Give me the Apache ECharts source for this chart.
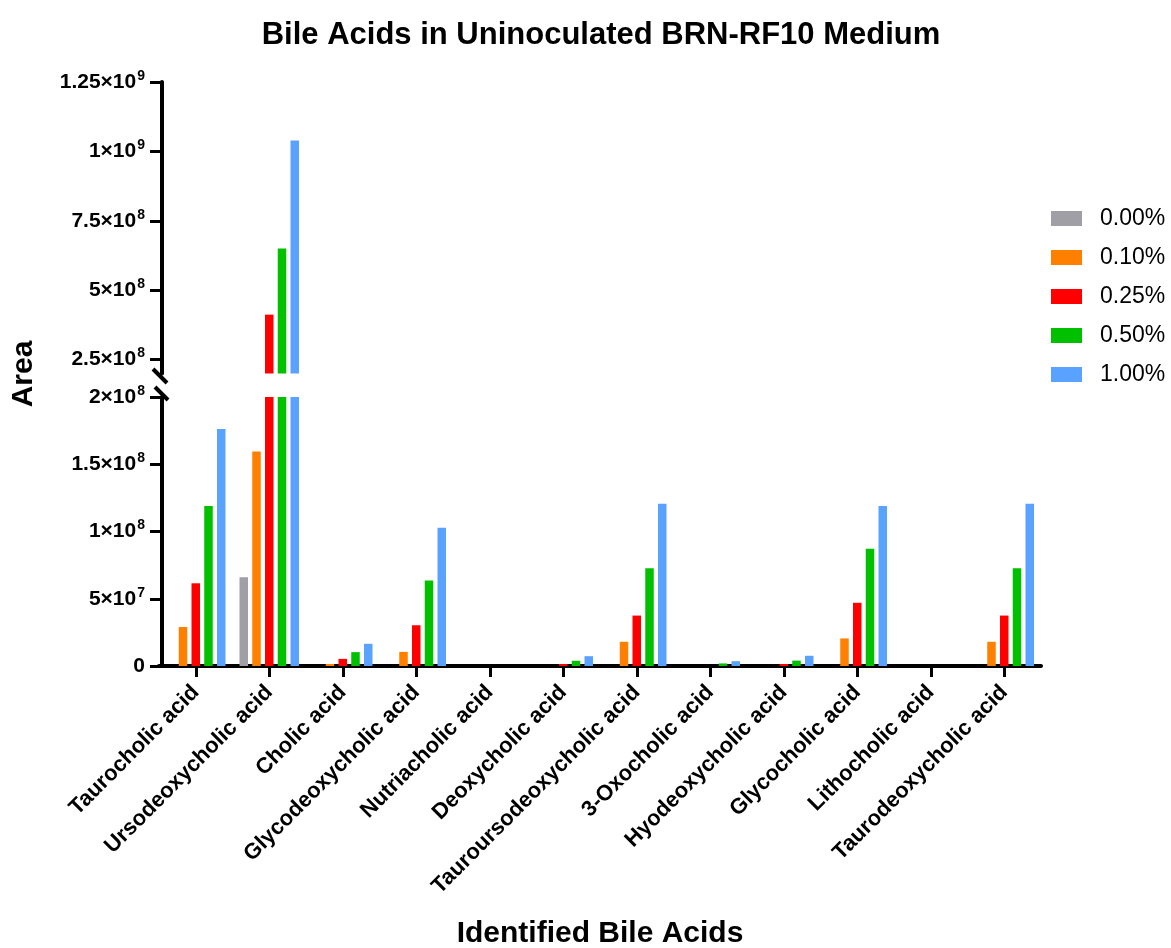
<!DOCTYPE html>
<html>
<head>
<meta charset="utf-8">
<script src="https://cdn.jsdelivr.net/npm/echarts@6/dist/echarts.min.js"></script>
<style>html,body{margin:0;padding:0;background:#fff}#c{width:1171px;height:948px}</style>
</head>
<body>
<div id="c"></div>
<script>
const categories = ['Taurocholic acid','Ursodeoxycholic acid','Cholic acid','Glycodeoxycholic acid','Nutriacholic acid','Deoxycholic acid','Tauroursodeoxycholic acid','3-Oxocholic acid','Hyodeoxycholic acid','Glycocholic acid','Lithocholic acid','Taurodeoxycholic acid'];
const seriesNames = ['0.00%','0.10%','0.25%','0.50%','1.00%'];
const v000 = [0, 6.6e7, 0, 0, 0, 0, 0, 0, 0, 0, 0, 0];
const v010 = [2.9e7, 1.595e8, 1.5e6, 1.05e7, 0, 0, 1.8e7, 0, 0, 2.05e7, 0, 1.8e7];
const v025 = [6.15e7, 4.12e8, 5.3e6, 3.03e7, 0, 1.5e6, 3.75e7, 0, 1.5e6, 4.7e7, 0, 3.75e7];
const v050 = [1.19e8, 6.5e8, 1.03e7, 6.35e7, 0, 3.9e6, 7.27e7, 1.9e6, 4.0e6, 8.71e7, 0, 7.27e7];
const v100 = [1.763e8, 1.039e9, 1.65e7, 1.027e8, 0, 7.3e6, 1.207e8, 3.6e6, 7.6e6, 1.19e8, 0, 1.207e8];
const lowerTicks = [0, 5e7, 1e8, 1.5e8, 2e8];
const upperTicks = [2.5e8, 5e8, 7.5e8, 1e9, 1.25e9];
const lowerMax = 2e8;
const upperMin = 2e8, upperMax = 1.25e9;

const colors = ['#a09fa5','#ff8000','#ff0000','#00c000','#5aa2ff'];
const allValues = [v000, v010, v025, v050, v100];
const FONT = 'Liberation Sans, Arial, Helvetica, sans-serif';

const G_LEFT = 159, G_RIGHT = 1171 - 1041;
const TOP_T = 82, TOP_H = 291.5;
const LOW_T = 397, LOW_H = 269;

function fmt(v) {
  if (v === 0) return '{m|0}';
  const e = Math.floor(Math.log10(v) + 1e-9);
  const m = +(v / Math.pow(10, e)).toFixed(3);
  return '{m|' + m + '×10}{e|' + e + '}';
}
const labelRich = {
  m: {fontFamily: FONT, fontWeight: 'bold', fontSize: 21, color: '#000', lineHeight: 28, verticalAlign: 'middle'},
  e: {fontFamily: FONT, fontWeight: 'bold', fontSize: 14, color: '#000', lineHeight: 28, verticalAlign: 'top', padding: [1, 0, 0, 1]}
};

const series = [];
allValues.forEach((vals, i) => {
  series.push({
    name: seriesNames[i], type: 'bar', xAxisIndex: 1, yAxisIndex: 1,
    data: vals.slice(), barWidth: 8.5, barGap: '50%',
    itemStyle: {color: colors[i]}, clip: true
  });
  series.push({
    name: seriesNames[i], type: 'bar', xAxisIndex: 0, yAxisIndex: 0,
    data: vals.map(v => v > upperMin ? v : '-'), barWidth: 8.5, barGap: '50%',
    itemStyle: {color: colors[i]}, clip: true
  });
});

const chart = echarts.init(document.getElementById('c'), null, {renderer: 'canvas'});
chart.setOption({
  animation: false,
  backgroundColor: '#fff',
  title: {
    text: 'Bile Acids in Uninoculated BRN-RF10 Medium',
    left: 596, top: 15, textAlign: 'center',
    textStyle: {fontFamily: FONT, fontWeight: 'bold', fontSize: 31, color: '#000'}
  },
  legend: {
    orient: 'vertical', left: 1046, top: 201,
    data: seriesNames, itemWidth: 31, itemHeight: 15, itemGap: 14,
    icon: 'rect',
    textStyle: {fontFamily: FONT, fontSize: 23, color: '#000', padding: [0, 0, 0, 13], lineHeight: 25}
  },
  grid: [
    {left: G_LEFT, right: G_RIGHT, top: TOP_T, height: TOP_H},
    {left: G_LEFT, right: G_RIGHT, top: LOW_T, height: LOW_H}
  ],
  xAxis: [
    {type: 'category', gridIndex: 0, data: categories, show: false},
    {type: 'category', gridIndex: 1, data: categories,
     axisLine: {show: true, lineStyle: {color: '#000', width: 4}},
     axisTick: {show: true, alignWithLabel: true, length: 11, lineStyle: {color: '#000', width: 3}},
     axisLabel: {interval: 0, rotate: 45, margin: 23, padding: [14, 0, 0, 0], fontFamily: FONT, fontWeight: 'bold', fontSize: 22, color: '#000'}
    }
  ],
  yAxis: [
    {type: 'value', gridIndex: 0, min: upperMin, max: upperMax, offset: -3,
     splitLine: {show: false},
     axisLine: {show: true, lineStyle: {color: '#000', width: 4}},
     axisTick: {show: true, length: 12, lineStyle: {color: '#000', width: 3}, customValues: upperTicks},
     axisLabel: {customValues: upperTicks, formatter: fmt, rich: labelRich, margin: 17}
    },
    {type: 'value', gridIndex: 1, min: 0, max: lowerMax, interval: 5e7, offset: -3,
     splitLine: {show: false},
     axisLine: {show: true, lineStyle: {color: '#000', width: 4}},
     axisTick: {show: true, length: 12, lineStyle: {color: '#000', width: 3}, customValues: lowerTicks},
     axisLabel: {customValues: lowerTicks, formatter: fmt, rich: labelRich, margin: 17}
    }
  ],
  graphic: [
    {type: 'text', x: 24, y: 374, rotation: Math.PI / 2,
     style: {text: 'Area', fontFamily: FONT, fontWeight: 'bold', fontSize: 30, fill: '#000', textAlign: 'center', textVerticalAlign: 'middle'}},
    {type: 'text', x: 600, y: 934,
     style: {text: 'Identified Bile Acids', fontFamily: FONT, fontWeight: 'bold', fontSize: 30, fill: '#000', textAlign: 'center', textVerticalAlign: 'middle'}},
    {type: 'line', shape: {x1: 153, y1: 369, x2: 167, y2: 383}, style: {stroke: '#000', lineWidth: 4}},
    {type: 'line', shape: {x1: 155, y1: 387, x2: 168, y2: 400}, style: {stroke: '#000', lineWidth: 4}}
  ],
  series: series
});
</script>
</body>
</html>
